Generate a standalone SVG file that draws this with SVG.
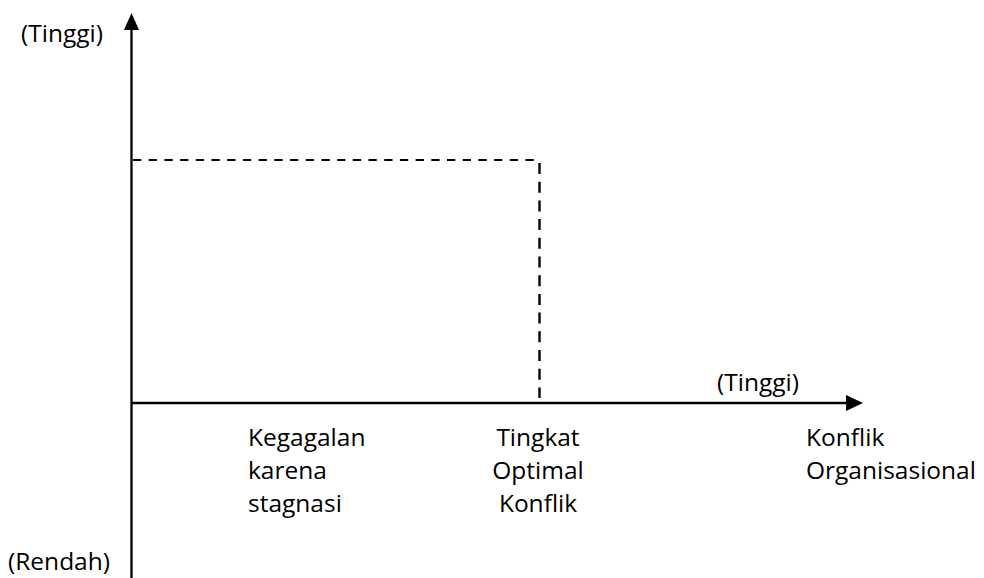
<svg xmlns="http://www.w3.org/2000/svg" width="984" height="578" viewBox="0 0 984 578">
  <style>
    .lbl { font-family: "Open Sans", "Liberation Sans", sans-serif; font-size: 24.5px; fill: #000; }
    .axis { stroke: #000; stroke-width: 2.3; fill: none; }
    .dash-h { stroke: #000; stroke-width: 2; fill: none; stroke-dasharray: 8.3 7.4; }
    .dash-v { stroke: #000; stroke-width: 2.4; fill: none; stroke-dasharray: 11 7.7; }
    .head { fill: #000; }
  </style>

  <g id="connectors">
    <!-- vertical axis with arrowhead -->
    <line class="axis" x1="131.5" y1="578" x2="131.5" y2="26"/>
    <path class="head" d="M131.5,13 L139,30 L124,30 Z"/>
    <!-- horizontal axis with arrowhead -->
    <line class="axis" x1="131" y1="403" x2="850" y2="403"/>
    <path class="head" d="M863,403 L846,395 L846,411 Z"/>
    <!-- optimal level guides -->
    <line class="dash-h" x1="133" y1="160" x2="534" y2="160"/>
    <line class="dash-v" x1="539.5" y1="163" x2="539.5" y2="398"/>
  </g>

  <g id="y-high"><text class="lbl" x="21" y="42">(Tinggi)</text></g>
  <g id="y-low"><text class="lbl" x="8" y="570">(Rendah)</text></g>
  <g id="x-high"><text class="lbl" x="717" y="391">(Tinggi)</text></g>

  <g id="stagnation">
    <text class="lbl" x="248" y="446">Kegagalan</text>
    <text class="lbl" x="248" y="479">karena</text>
    <text class="lbl" x="248" y="512">stagnasi</text>
  </g>

  <g id="optimal">
    <text class="lbl" x="538" y="446" text-anchor="middle">Tingkat</text>
    <text class="lbl" x="538" y="479" text-anchor="middle">Optimal</text>
    <text class="lbl" x="538" y="512" text-anchor="middle">Konflik</text>
  </g>

  <g id="conflict">
    <text class="lbl" x="806" y="446">Konflik</text>
    <text class="lbl" x="806" y="479">Organisasional</text>
  </g>
</svg>
